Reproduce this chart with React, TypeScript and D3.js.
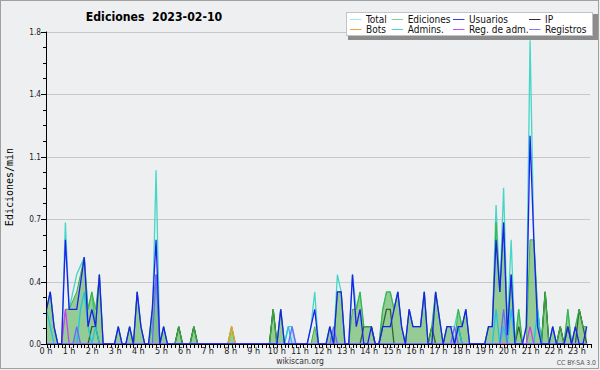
import React from "react";
import * as d3 from "d3";

const BINS = 144;
const HOURS = d3.range(0, 24);
const Y_TICKS = [0, 0.36, 0.72, 1.08, 1.44, 1.8];

// [bin (10 min), edits/min]
const totalPts: [number, number][] = [
  [0,0.2],[1,0.3],[2,0.1],[5,0.7],[6,0.2],[7,0.3],[8,0.4],[9,0.45],[10,0.5],[11,0.2],[12,0.3],[13,0.1],[14,0.4],
  [19,0.1],[22,0.1],[24,0.3],[25,0.1],[28,0.1],[29,1.0],[31,0.1],[35,0.1],[39,0.1],[49,0.1],[60,0.2],[62,0.2],[64,0.1],[65,0.1],
  [70,0.1],[71,0.3],[75,0.1],[77,0.4],[78,0.3],[81,0.4],[82,0.2],[83,0.3],[84,0.1],[85,0.1],[86,0.1],
  [89,0.2],[90,0.3],[91,0.3],[92,0.2],[93,0.3],[94,0.1],[96,0.2],[97,0.1],[98,0.1],[99,0.1],[100,0.3],[102,0.1],[103,0.3],[104,0.15],
  [106,0.1],[107,0.1],[108,0.1],[109,0.2],[110,0.1],[111,0.2],[117,0.1],[118,0.1],[119,0.8],[120,0.3],[121,0.9],[122,0.1],[123,0.6],
  [125,0.2],[127,0.1],[128,1.75],[129,0.6],[130,0.2],[132,0.3],[134,0.1],[136,0.1],[138,0.2],[140,0.1],[141,0.2],[142,0.1],[143,0.1],
];
const edicionesPts: [number, number][] = [
  [0,0.2],[1,0.3],[2,0.1],[5,0.2],[6,0.2],[7,0.25],[8,0.3],[9,0.4],[10,0.5],[11,0.2],[12,0.3],[13,0.2],[14,0.4],
  [19,0.1],[22,0.1],[24,0.3],[25,0.1],[28,0.2],[29,0.4],[31,0.1],[35,0.1],[39,0.1],[49,0.1],[60,0.2],[62,0.2],
  [71,0.1],[75,0.1],[77,0.3],[78,0.3],[81,0.2],[82,0.2],[83,0.3],[84,0.1],[85,0.1],[86,0.1],
  [89,0.2],[90,0.3],[91,0.3],[92,0.2],[93,0.3],[94,0.1],[96,0.2],[97,0.1],[98,0.1],[99,0.1],[100,0.3],[102,0.1],[103,0.3],[104,0.15],
  [106,0.1],[107,0.1],[109,0.2],[110,0.1],[111,0.2],[117,0.1],[118,0.1],[119,0.7],[120,0.3],[121,0.7],[122,0.1],[123,0.4],
  [125,0.2],[128,0.6],[129,0.6],[130,0.2],[132,0.3],[134,0.1],[136,0.1],[138,0.2],[140,0.1],[141,0.2],[142,0.1],[143,0.1],
];
const usuariosPts: [number, number][] = [
  [0,0.2],[1,0.3],[2,0.1],[5,0.6],[6,0.2],[7,0.2],[8,0.2],[9,0.35],[10,0.5],[11,0.1],[12,0.2],[13,0.1],[14,0.4],
  [19,0.1],[22,0.1],[24,0.3],[25,0.1],[28,0.2],[29,0.6],[31,0.1],[62,0.2],[70,0.1],[71,0.2],[75,0.1],[77,0.3],[78,0.3],
  [81,0.4],[82,0.1],[83,0.2],[86,0.1],[89,0.1],[90,0.1],[91,0.1],[92,0.2],[93,0.3],[94,0.1],[96,0.2],[97,0.1],[98,0.1],[99,0.1],
  [100,0.3],[103,0.3],[104,0.15],[106,0.1],[107,0.1],[109,0.1],[110,0.1],[111,0.2],[117,0.1],[118,0.1],[119,0.6],[120,0.3],
  [121,0.7],[122,0.05],[123,0.4],[127,0.1],[128,1.2],[129,0.6],[130,0.1],[134,0.1],[138,0.1],[140,0.1],[143,0.1],
];
const ipPts: [number, number][] = [
  [12,0.1],[13,0.1],[35,0.1],[39,0.1],[60,0.2],[84,0.1],[85,0.1],[86,0.1],[89,0.1],[90,0.2],[91,0.2],[102,0.1],[109,0.1],
  [125,0.1],[132,0.3],[136,0.1],[138,0.1],[141,0.2],[142,0.1],
];
const botsPts: [number, number][] = [[49,0.1]];
const adminsPts: [number, number][] = [
  [0,0.2],[1,0.1],[9,0.2],[10,0.3],[11,0.1],[13,0.1],[64,0.1],[109,0.1],[119,0.2],[121,0.1],[123,0.2],[130,0.2],
];
const regAdmPts: [number, number][] = [[5,0.2],[128,0.1]];
const registrosPts: [number, number][] = [[8,0.1],[29,0.4],[65,0.1],[76,0.1],[108,0.1],[121,0.2]];

const LEGEND = [
  { name: "Total", color: "#a8e6e6" },
  { name: "Ediciones", color: "#88d488" },
  { name: "Usuarios", color: "#3a3ae6" },
  { name: "IP", color: "#303030" },
  { name: "Bots", color: "#f0a040" },
  { name: "Admins.", color: "#4cd0e0" },
  { name: "Reg. de adm.", color: "#d04ce6" },
  { name: "Registros", color: "#8080f0" },
];

const dense = (pts: [number, number][]) => {
  const a = new Array(BINS).fill(0);
  pts.forEach(([i, v]) => (a[i] = v));
  return a;
};

const FONT = "'DejaVu Sans Condensed', 'DejaVu Sans', sans-serif";

export default function App() {
  const L = 46, R = 590, T = 31.5, B = 344;
  const x = d3.scaleLinear().domain([0, BINS]).range([L + 0.5, R + 0.5]);
  const xLab = d3.scaleLinear().domain([0, 24]).range([L, 600]);
  const y = d3.scaleLinear().domain([0, 1.8]).range([B, T]);
  const line = d3.line<number>().x((_, i) => x(i)).y((v) => y(v));
  const area = d3.area<number>().x((_, i) => x(i)).y0(y(0)).y1((v) => y(v));

  const total = dense(totalPts);
  const edic = dense(edicionesPts);
  const usu = dense(usuariosPts);
  const ip = dense(ipPts);
  const bots = dense(botsPts);
  const adm = dense(adminsPts);
  const regAdm = dense(regAdmPts);
  const regis = dense(registrosPts);

  const minor = d3.range(0, 21).map((k) => (k * 1.8) / 20);
  const fmt = d3.format(".1f");
  const colX = [350, 391.7, 453, 529];
  const rowY = [19, 29.3];

  return (
    <svg width={600} height={370} style={{ display: "block", position: "absolute", left: 0, top: 0 }} fontFamily={FONT}>
      <style>{`body{margin:0}`}</style>
      <rect x={0} y={0} width={600} height={370} fill="#eeeff1" />
      <rect x={0.5} y={0.5} width={598} height={368} fill="none" stroke="#a0a0a0" />
      {Y_TICKS.filter((t) => t > 0).map((t) => (
        <line key={t} x1={L} x2={R} y1={Math.round(y(t)) + 0.5} y2={Math.round(y(t)) + 0.5} stroke="#c8c8c8" />
      ))}
      <path d={line(total) || ""} fill="none" stroke="#44d6c6" strokeWidth={1.3} />
      <path d={line(ip) || ""} fill="none" stroke="#202020" strokeWidth={1.3} />
      <path d={area(regis) || ""} fill="rgba(90,140,220,0.25)" stroke="none" />
      <path d={area(edic) || ""} fill="rgba(60,170,60,0.5)" stroke="none" />
      <path d={line(edic) || ""} fill="none" stroke="#3cb43c" strokeWidth={1} />
      <path d={line(bots) || ""} fill="none" stroke="#f0a020" strokeWidth={1.3} />
      <path d={line(adm) || ""} fill="none" stroke="#20c4e0" strokeWidth={1.3} />
      <path d={line(regAdm) || ""} fill="none" stroke="#d040f0" strokeWidth={1.3} />
      <path d={line(regis) || ""} fill="none" stroke="#6a6aff" strokeWidth={1.3} />
      <path d={line(usu) || ""} fill="none" stroke="#1e1ef0" strokeWidth={1.3} />
      <line x1={L + 0.5} x2={L + 0.5} y1={T} y2={B + 1} stroke="#000" />
      <line x1={L} x2={R + 1} y1={B + 0.5} y2={B + 0.5} stroke="#000" />
      {minor.map((t, k) => (
        <line key={k} x1={k % 4 === 0 ? 41 : 43} x2={L} y1={Math.round(y(t)) + 0.5} y2={Math.round(y(t)) + 0.5} stroke="#000" />
      ))}
      {Y_TICKS.map((t) => (
        <text key={t} x={41} y={y(t) + 3} fontSize={8.2} textAnchor="end" fill="#222">{fmt(t)}</text>
      ))}
      {d3.range(0, BINS + 1).map((i) => (
        <line key={i} x1={Math.round(x(i)) + 0.5} x2={Math.round(x(i)) + 0.5} y1={B} y2={B + 4} stroke="#000" />
      ))}
      {HOURS.map((h) => (
        <text key={h} x={xLab(h)} y={353.5} fontSize={9} textAnchor="middle" fill="#222">{`${h} h`}</text>
      ))}
      <text x={154} y={20.8} fontSize={12.2} fontWeight="bold" textAnchor="middle" fill="#000" style={{ whiteSpace: "pre" }}>{"Ediciones  2023-02-10"}</text>
      <text transform="translate(12.5,187) rotate(-90)" fontSize={10} textAnchor="middle" fontFamily="'DejaVu Sans Mono', monospace" fill="#000">Ediciones/min</text>
      <text x={300} y={364} fontSize={8.5} textAnchor="middle" fill="#333">wikiscan.org</text>
      <text x={596} y={365} fontSize={6.8} textAnchor="end" fill="#555">CC BY-SA 3.0</text>
      <rect x={348} y={14} width={250} height={26} fill="#8c8c8c" />
      <rect x={346.5} y={12.5} width={246} height={23} fill="#fff" stroke="#c4c4c4" />
      {LEGEND.map((s, k) => {
        const cx = colX[k % 4];
        const cy = rowY[Math.floor(k / 4)];
        return (
          <g key={s.name}>
            <line x1={cx} x2={cx + 11.5} y1={Math.round(cy) + 0.5} y2={Math.round(cy) + 0.5} stroke={s.color} />
            <text x={cx + 16} y={cy + 3.6} fontSize={10} fill="#111">{s.name}</text>
          </g>
        );
      })}
    </svg>
  );
}
